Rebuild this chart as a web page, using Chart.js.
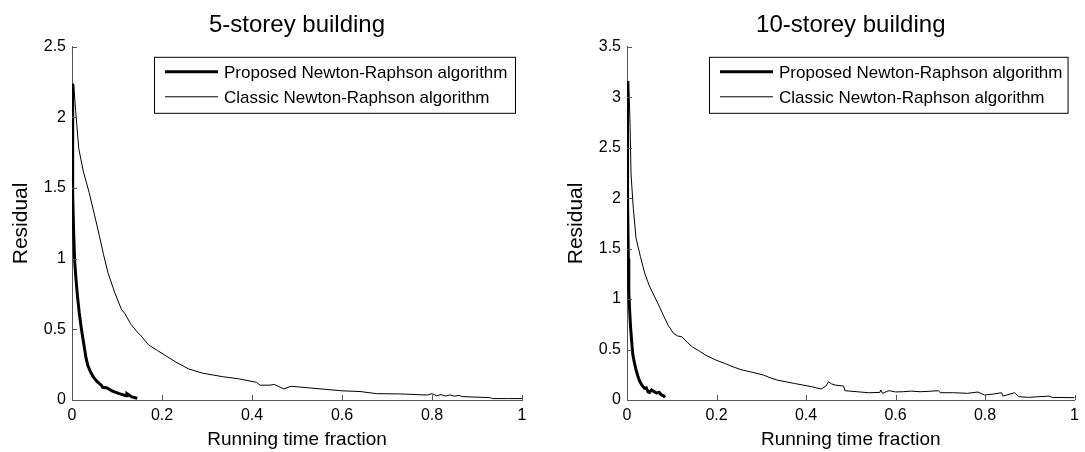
<!DOCTYPE html>
<html>
<head>
<meta charset="utf-8">
<script src="https://cdn.jsdelivr.net/npm/chart.js@4"></script>
<style>
  body { margin: 0; background: #fff; }
  #wrap { position: relative; width: 1085px; height: 452px; }
  canvas { position: absolute; top: 0; }
</style>
</head>
<body>
<div id="wrap">
  <canvas id="c5" width="545" height="452" style="left:0"></canvas>
  <canvas id="c10" width="540" height="452" style="left:545px"></canvas>
</div>

<script>
// series labels
var labelProposed = 'Proposed Newton-Raphson algorithm';
var labelClassic = 'Classic Newton-Raphson algorithm';

// 5-storey building
var fiveProposedX = [0.000, 0.001, 0.002, 0.004, 0.006, 0.009, 0.012, 0.016, 0.021, 0.027, 0.031, 0.035, 0.041, 0.048, 0.056, 0.065, 0.068, 0.078, 0.090, 0.105, 0.120, 0.122, 0.133, 0.145];
var fiveProposedY = [2.24, 1.90, 1.45, 1.15, 0.98, 0.85, 0.74, 0.62, 0.50, 0.38, 0.30, 0.245, 0.20, 0.16, 0.13, 0.105, 0.09, 0.085, 0.063, 0.045, 0.03, 0.045, 0.022, 0.012];
var fiveClassicX = [0.004, 0.008, 0.015, 0.025, 0.038, 0.050, 0.061, 0.070, 0.080, 0.095, 0.110, 0.118, 0.130, 0.148, 0.152, 0.170, 0.190, 0.205, 0.230, 0.259, 0.290, 0.335, 0.370, 0.410, 0.418, 0.440, 0.449, 0.460, 0.471, 0.480, 0.487, 0.530, 0.600, 0.640, 0.677, 0.730, 0.790, 0.800, 0.810, 0.820, 0.830, 0.840, 0.850, 0.860, 0.867, 0.900, 0.928, 0.935, 0.970, 1.000];
var fiveClassicY = [2.23, 2.05, 1.78, 1.62, 1.47, 1.31, 1.16, 1.03, 0.90, 0.76, 0.64, 0.61, 0.54, 0.47, 0.46, 0.39, 0.35, 0.32, 0.27, 0.22, 0.19, 0.165, 0.15, 0.125, 0.105, 0.105, 0.11, 0.095, 0.078, 0.09, 0.097, 0.085, 0.065, 0.06, 0.045, 0.043, 0.035, 0.045, 0.03, 0.038, 0.028, 0.036, 0.027, 0.033, 0.024, 0.02, 0.017, 0.01, 0.01, 0.01];

// 10-storey building
var tenProposedX = [0.000, 0.001, 0.0015, 0.003, 0.004, 0.006, 0.008, 0.011, 0.013, 0.017, 0.020, 0.024, 0.028, 0.033, 0.039, 0.043, 0.047, 0.050, 0.055, 0.060, 0.066, 0.072, 0.077, 0.081, 0.085];
var tenProposedY = [3.16, 2.50, 1.97, 1.40, 1.08, 0.88, 0.72, 0.55, 0.45, 0.36, 0.30, 0.24, 0.19, 0.15, 0.115, 0.12, 0.08, 0.075, 0.10, 0.085, 0.07, 0.075, 0.05, 0.045, 0.026];
var tenClassicX = [0.004, 0.007, 0.009, 0.014, 0.020, 0.030, 0.040, 0.050, 0.062, 0.072, 0.081, 0.092, 0.104, 0.113, 0.123, 0.135, 0.146, 0.160, 0.176, 0.199, 0.220, 0.237, 0.255, 0.275, 0.305, 0.320, 0.336, 0.374, 0.412, 0.434, 0.445, 0.450, 0.457, 0.465, 0.484, 0.487, 0.540, 0.565, 0.567, 0.571, 0.580, 0.586, 0.600, 0.617, 0.635, 0.655, 0.675, 0.696, 0.700, 0.730, 0.761, 0.784, 0.799, 0.820, 0.837, 0.840, 0.866, 0.875, 0.897, 0.943, 0.950, 1.000];
var tenClassicY = [3.16, 2.70, 2.24, 1.90, 1.61, 1.42, 1.25, 1.13, 1.02, 0.93, 0.84, 0.74, 0.66, 0.635, 0.625, 0.57, 0.526, 0.49, 0.444, 0.395, 0.36, 0.329, 0.30, 0.28, 0.247, 0.22, 0.197, 0.164, 0.132, 0.109, 0.14, 0.181, 0.16, 0.148, 0.138, 0.092, 0.072, 0.075, 0.099, 0.066, 0.085, 0.092, 0.08, 0.082, 0.088, 0.082, 0.086, 0.092, 0.072, 0.072, 0.066, 0.079, 0.049, 0.06, 0.072, 0.039, 0.072, 0.033, 0.026, 0.039, 0.026, 0.023];

var FONT = '"Liberation Sans", Arial, sans-serif';
var axisColor = '#555';

function zip(xs, ys) {
  return xs.map((x, i) => ({ x: x, y: ys[i] }));
}

// plain number labels: 0, 0.5, 1 ... (no trailing zeros)
function plainTick(v) {
  return String(Number(v.toFixed(2)));
}

// legend drawn as a framed box inside the plot, top right
const boxLegend = {
  id: 'boxLegend',
  afterDraw(chart) {
    const { ctx, chartArea } = chart;
    const left = chartArea.left + 82, right = chartArea.right - 7;
    const top = chartArea.top + 10, bottom = chartArea.top + 66;
    ctx.save();
    ctx.strokeStyle = '#000';
    ctx.lineWidth = 1;
    ctx.strokeRect(left + 0.5, top + 0.5, right - left, bottom - top);
    ctx.font = '17px ' + FONT;
    ctx.textBaseline = 'middle';
    chart.data.datasets.forEach((ds, i) => {
      const y = top + 15 + i * 25;
      ctx.beginPath();
      ctx.lineWidth = ds.borderWidth;
      ctx.strokeStyle = ds.borderColor;
      ctx.moveTo(left + 11, y);
      ctx.lineTo(left + 64, y);
      ctx.stroke();
      ctx.fillStyle = '#000';
      ctx.fillText(ds.label, left + 70, y + 2);
    });
    ctx.restore();
  }
};

// small tick marks pointing into the plot
const inwardTicks = {
  id: 'inwardTicks',
  afterDraw(chart) {
    const { ctx, chartArea, scales } = chart;
    ctx.save();
    ctx.strokeStyle = axisColor;
    ctx.lineWidth = 1;
    ctx.beginPath();
    scales.x.ticks.forEach(t => {
      const px = Math.round(scales.x.getPixelForValue(t.value)) + 0.5;
      ctx.moveTo(px, chartArea.bottom);
      ctx.lineTo(px, chartArea.bottom - 5);
    });
    scales.y.ticks.forEach(t => {
      const py = Math.round(scales.y.getPixelForValue(t.value)) + 0.5;
      ctx.moveTo(chartArea.left, py);
      ctx.lineTo(chartArea.left + 5, py);
    });
    ctx.stroke();
    ctx.restore();
  }
};

function drawPanel(id, title, proposed, classic, yMax, yAxisWidth, rightPad, yTitlePad) {
  return new Chart(document.getElementById(id), {
    type: 'line',
    data: {
      datasets: [
        { label: labelProposed, data: proposed, borderColor: '#000', borderWidth: 3, pointRadius: 0, tension: 0 },
        { label: labelClassic, data: classic, borderColor: '#000', borderWidth: 1, pointRadius: 0, tension: 0 }
      ]
    },
    options: {
      responsive: false,
      animation: false,
      layout: { padding: { left: 0, right: rightPad, top: 0, bottom: 0 } },
      plugins: {
        legend: { display: false },
        tooltip: { enabled: false },
        title: {
          display: true,
          text: title,
          fullSize: false,
          color: '#000',
          font: { family: FONT, size: 24, weight: 'normal' },
          padding: { top: 11, bottom: 7 }
        }
      },
      scales: {
        x: {
          type: 'linear',
          min: 0, max: 1,
          grid: { display: false, drawTicks: false },
          border: { display: true, color: axisColor, width: 1 },
          ticks: { stepSize: 0.2, padding: 6, color: '#000', font: { family: FONT, size: 16 }, callback: plainTick },
          title: { display: true, text: 'Running time fraction', color: '#000', font: { family: FONT, size: 19 }, padding: { top: 0, bottom: 1 } },
          afterFit(s) { s.height = 52; }
        },
        y: {
          type: 'linear',
          min: 0, max: yMax,
          grid: { display: false, drawTicks: false },
          border: { display: true, color: axisColor, width: 1 },
          ticks: { stepSize: 0.5, padding: 6, color: '#000', font: { family: FONT, size: 16 }, callback: plainTick },
          title: { display: true, text: 'Residual', color: '#000', font: { family: FONT, size: 21 }, padding: { top: yTitlePad, bottom: 0 } },
          afterFit(s) { s.width = yAxisWidth; }
        }
      }
    },
    plugins: [inwardTicks, boxLegend]
  });
}

drawPanel('c5', '5-storey building', zip(fiveProposedX, fiveProposedY), zip(fiveClassicX, fiveClassicY), 2.5, 72, 23, 9);
drawPanel('c10', '10-storey building', zip(tenProposedX, tenProposedY), zip(tenClassicX, tenClassicY), 3.5, 82, 8, 19);
</script>
</body>
</html>
